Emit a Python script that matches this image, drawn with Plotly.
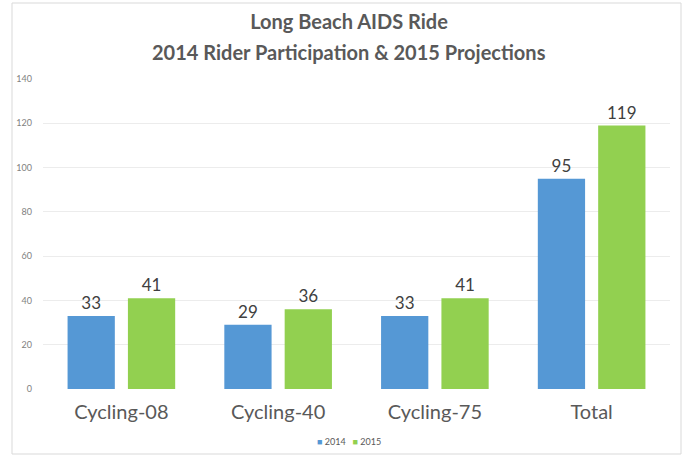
import plotly.graph_objects as go

categories = ["Cycling-08", "Cycling-40", "Cycling-75", "Total"]
values_2014 = [33, 29, 33, 95]
values_2015 = [41, 36, 41, 119]
series_names = ["2014", "2015"]
series_colors = ["#5598d5", "#92d050"]
y_ticks = [0, 20, 40, 60, 80, 100, 120, 140]
title_lines = ["Long Beach AIDS Ride", "2014 Rider Participation & 2015 Projections"]

W, H = 687, 457
ML, MR, MT, MB = 43, 17, 79, 68
pw = W - ML - MR
ph = H - MT - MB

fig = go.Figure()
for name, vals, col in zip(series_names, [values_2014, values_2015], series_colors):
    fig.add_trace(go.Bar(
        x=categories, y=vals, name=name,
        marker=dict(color=col, line=dict(width=0)),
        text=vals, textposition="outside",
        textfont=dict(size=17, color="#404040", family="Lato"),
        cliponaxis=False, showlegend=False, hoverinfo="skip",
    ))

fig.add_shape(type="rect", xref="paper", yref="paper",
              x0=(12 - ML) / pw, x1=(681 - ML) / pw,
              y0=-(454 - (H - MB)) / ph, y1=1 + (MT - 3) / ph,
              line=dict(color="#d9d9d9", width=1), fillcolor="rgba(0,0,0,0)", layer="below")

legend_text = "&nbsp;&nbsp;&nbsp;".join(
    f"<span style='color:{c}'>■</span>&nbsp;{n}" for n, c in zip(series_names, series_colors)
)
fig.add_annotation(
    text=legend_text, xref="paper", yref="paper",
    x=(349 - ML) / pw, y=-(441 - (H - MB)) / ph, xanchor="center", yanchor="middle",
    showarrow=False, font=dict(size=9, color="#595959", family="Lato"),
)

title_font = dict(family="Lato", size=20, color="#595959", weight="bold")
fig.add_annotation(
    text=title_lines[1], xref="paper", yref="paper",
    x=(349 - ML) / pw, y=1 + (MT - 52) / ph, xanchor="center", yanchor="middle",
    showarrow=False, font=title_font,
)

fig.update_layout(
    width=W, height=H,
    margin=dict(l=ML, r=MR, t=MT, b=MB),
    paper_bgcolor="white", plot_bgcolor="white",
    barmode="group", bargap=0.23, bargroupgap=0.217,
    title=dict(
        text=title_lines[0],
        x=(349 - ML) / pw, xref="paper", xanchor="center",
        yref="container", y=1 - 22 / H, yanchor="middle",
        font=title_font,
    ),
    font=dict(family="Lato", color="#595959"),
    xaxis=dict(
        showgrid=False, showline=False, zeroline=False,
        tickfont=dict(size=20, color="#595959", family="Lato"),
        ticklabelstandoff=9,
    ),
    yaxis=dict(
        range=[0, 140], tickvals=y_ticks, showgrid=True, gridcolor="#ececec", gridwidth=1,
        zeroline=False, showline=False,
        tickfont=dict(size=9, color="#7f7f7f", family="Lato"),
        ticklabelstandoff=10,
    ),
    showlegend=False,
)

fig.write_html("out.html", config={"displayModeBar": False},
               post_script="document.body.style.margin='0';")
